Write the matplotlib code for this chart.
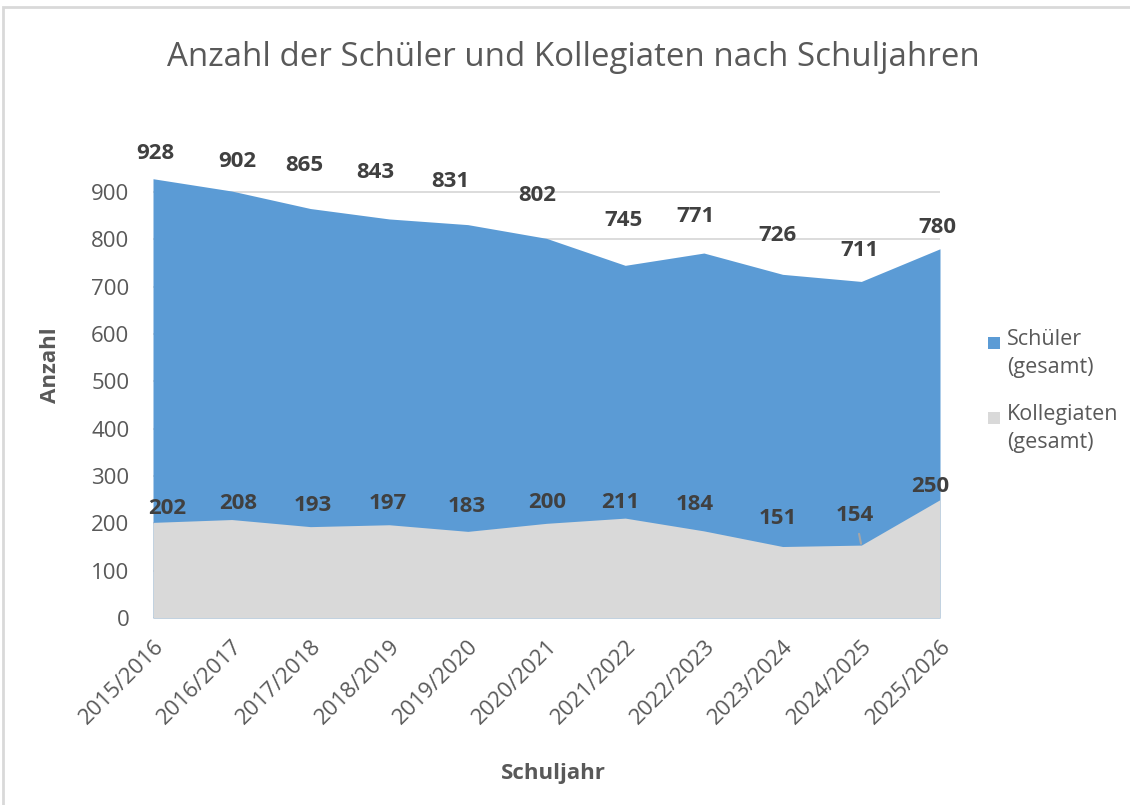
import matplotlib
matplotlib.use("Agg")
import matplotlib.pyplot as plt
from matplotlib.patches import Rectangle

# data
schuljahre = ["2015/2016", "2016/2017", "2017/2018", "2018/2019", "2019/2020",
              "2020/2021", "2021/2022", "2022/2023", "2023/2024", "2024/2025",
              "2025/2026"]
schueler = [928, 902, 865, 843, 831, 802, 745, 771, 726, 711, 780]
kollegiaten = [202, 208, 193, 197, 183, 200, 211, 184, 151, 154, 250]

# label offsets (pixels, dx right / dy up), as placed by hand in the original
off_schueler = [(2, 25), (6, 30), (-6, 43), (-14, 46), (-17, 43), (-9, 43),
                (-2, 45), (-8, 37), (-5, 39), (-2, 31), (-3, 21)]
off_kolleg = [(14, 14), (6, 16), (2, 21), (-1, 21), (-1, 25), (1, 21),
              (-5, 16), (-9, 26), (-5, 28), (-6, 30), (-10, 13)]

plt.rcParams['font.family'] = ['Open Sans', 'DejaVu Sans']

blue = "#5B9BD5"
grey = "#D9D9D9"
txt = "#595959"
lbl = "#404040"
PX = 0.72  # points per pixel at dpi 100

fig = plt.figure(figsize=(11.3, 8.05), dpi=100)
ax = fig.add_axes([153/1130, 1 - 618/805, (940-153)/1130, (618-175.4)/805])

x = list(range(len(schuljahre)))
ax.fill_between(x, 0, schueler, color=blue, lw=0, zorder=2)
ax.fill_between(x, 0, kollegiaten, color=grey, lw=0, zorder=3)

ax.set_xlim(0, len(x) - 1)
ax.set_ylim(0, 935)
ax.set_yticks(range(0, 1000, 100))
ax.yaxis.grid(True, color=grey, lw=1.3, zorder=1)
ax.set_axisbelow(True)
for s in ax.spines.values():
    s.set_visible(False)
ax.tick_params(length=0, colors=txt)
ax.tick_params(axis='y', pad=17, labelsize=16)
ax.set_xticks(x)
ax.set_xticklabels(schuljahre, rotation=45, ha='right', rotation_mode='anchor',
                   fontsize=16)
ax.tick_params(axis='x', pad=13)

# data labels
for i, v in enumerate(schueler):
    dx, dy = off_schueler[i]
    ax.annotate(str(v), (i, v), xytext=(dx*PX, dy*PX), textcoords='offset points',
                ha='center', va='center', fontsize=16, fontweight='bold',
                color=lbl, annotation_clip=False, zorder=5)
for i, v in enumerate(kollegiaten):
    dx, dy = off_kolleg[i]
    arrow = None
    if i == 9:  # leader line on the moved label
        arrow = dict(arrowstyle='-', color="#A6A6A6", lw=1.5, shrinkA=4, shrinkB=1)
    ax.annotate(str(v), (i, v), xytext=(dx*PX, dy*PX), textcoords='offset points',
                ha='center', va='center', fontsize=16, fontweight='bold',
                color=lbl, annotation_clip=False, zorder=5, arrowprops=arrow)

fig.text(51/1130, 1 - 365/805, "Anzahl", rotation=90, ha='center', va='center',
         fontsize=16, fontweight='bold', color=txt)
fig.text(553/1130, 1 - 773/805, "Schuljahr", ha='center', va='center',
         fontsize=16, fontweight='bold', color=txt)

fig.text(573/1130, 0.928, "Anzahl der Schüler und Kollegiaten nach Schuljahren",
         ha='center', va='center', fontsize=23.8, color=txt)

# legend, marker lined up with the first text line like in the original
legend_items = [("Schüler\n(gesamt)", blue), ("Kollegiaten\n(gesamt)", grey)]
for k, (name, col) in enumerate(legend_items):
    ytop = 343 + k * 75
    fig.patches.append(Rectangle((988/1130, 1 - (ytop + 6)/805), 12/1130, 12/805,
                                 transform=fig.transFigure, color=col, lw=0))
    fig.text(1007/1130, 1 - (ytop - 14)/805, name, ha='left', va='top',
             fontsize=15.5, color=txt, linespacing=1.45)

# chart border
fig.patches.append(Rectangle((3/1130, -0.05), 1.2, 1 - 7/805 + 0.05,
                             transform=fig.transFigure, fill=False,
                             edgecolor="#D9D9D9", lw=2))

fig.savefig("out.png", dpi=100)
